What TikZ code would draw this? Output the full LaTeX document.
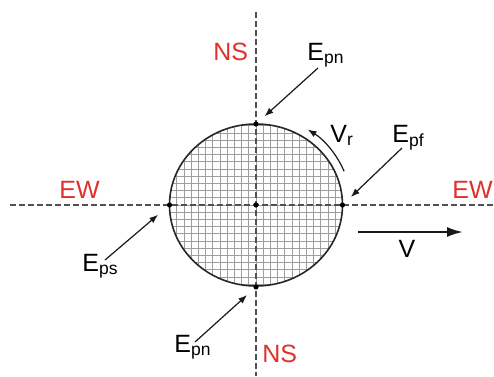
\documentclass[tikz,border=0pt]{standalone}
\usepackage{fontspec}
\setmainfont{Liberation Sans}
\usepackage{tikz}
\usetikzlibrary{arrows.meta, calc}
\definecolor{axisred}{RGB}{224,48,42}
\definecolor{axisgray}{RGB}{80,80,80}

\begin{document}
\begin{tikzpicture}[
    x=0.5pt, y=-0.5pt,
    lab/.style={inner sep=0pt, font=\fontsize{12.5}{15}\selectfont},
    dirlab/.style={lab, text=axisred},
    dashaxis/.style={axisgray, line width=0.7pt, dash pattern=on 3.2pt off 1.3pt},
    gridline/.style={black!38, line width=0.4pt},
    dot/.style={circle, fill=black, inner sep=0pt, minimum size=2.6pt},
    arr/.style={-{Latex[length=4.4pt, width=3.3pt]}, line width=0.6pt, black!90},
  ]
    \useasboundingbox (0,0) rectangle (494,376);

    % gridded disc
    \coordinate (c) at (256,205);
    \begin{scope}
      \clip (c) ellipse [x radius=86.5, y radius=81];
      \foreach \k in {-12,...,12} {
        \draw[gridline] ($(c)+(\k*7.2,-90)$) -- ++(0,180);
      }
      \foreach \k in {-12,...,12} {
        \draw[gridline] ($(c)+(-95,\k*7.2)$) -- ++(190,0);
      }
    \end{scope}
    \draw[line width=0.8pt, black!85] (c) ellipse [x radius=86.5, y radius=81];

    % axes
    \coordinate (ewW) at (10,205);
    \coordinate (ewE) at (494,205);
    \coordinate (nsN) at (256,12);
    \coordinate (nsS) at (256,376);
    \draw[dashaxis] (ewW) -- (ewE);
    \draw[dashaxis] (nsN) -- (nsS);

    % points on the disc
    \node[dot] (ctr) at (256,205) {};
    \node[dot] (pn) at (256,124) {};
    \node[dot] (ps) at (256,287) {};
    \node[dot] (pw) at (169.5,205) {};
    \node[dot] (pe) at (342.5,205) {};

    % direction labels
    \node[dirlab, anchor=base west] (nsTop) at (213,60) {NS};
    \node[dirlab, anchor=base west] (nsBot) at (262,362) {NS};
    \node[dirlab, anchor=base west] (ewL) at (59,198) {EW};
    \node[dirlab, anchor=base west] (ewR) at (452,198) {EW};

    % point labels
    \node[lab, anchor=base west] (epnTop) at (307,60) {E\textsubscript{pn}};
    \node[lab, anchor=base west] (epf) at (392,142) {E\textsubscript{pf}};
    \node[lab, anchor=base west] (eps) at (82,271) {E\textsubscript{ps}};
    \node[lab, anchor=base west] (epnBot) at (174,352) {E\textsubscript{pn}};
    \node[lab, anchor=base west] (vr) at (330,142) {V\textsubscript{r}};
    \node[lab, anchor=base] (vel) at (407,257) {V};

    \coordinate (tTop) at (318,68);
    \coordinate (tPf) at (402,148);
    \coordinate (tPs) at (105,260);
    \coordinate (tBot) at (195,342);
    \draw[arr, shorten >=4.3pt] (tTop) -- (pn);
    \draw[arr, shorten >=4.3pt] (tPf) -- (pe);
    \draw[arr, shorten >=6pt] (tPs) -- (pw);
    \draw[arr, shorten >=4.5pt] (tBot) -- (ps);

    % motion
    \coordinate (vA) at (358,232);
    \coordinate (vB) at (463,232);
    \draw[-{Latex[length=8pt, width=5pt]}, line width=1pt, black!90] (vA) -- (vB);
    \draw[arr] (344.1,171.3) arc[start angle=-22, end angle=-57, x radius=95, y radius=90];
  \end{tikzpicture}
\end{document}
